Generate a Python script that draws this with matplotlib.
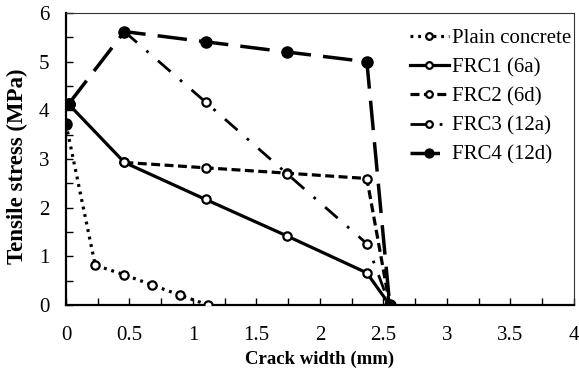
import matplotlib
matplotlib.use("Agg")
import matplotlib.pyplot as plt
from matplotlib.ticker import MultipleLocator

plt.rcParams['font.family'] = ['Liberation Serif', 'DejaVu Serif']

# crack width (mm) / tensile stress (MPa)
plain_x = [0.0, 0.23, 0.46, 0.68, 0.90, 1.12]
plain_y = [3.72, 0.82, 0.62, 0.41, 0.20, 0.0]

frc1_x = [0.02, 0.46, 1.10, 1.74, 2.37, 2.55]
frc1_y = [4.13, 2.93, 2.17, 1.42, 0.66, 0.0]

frc2_x = [0.46, 1.10, 1.74, 2.37, 2.55]
frc2_y = [2.93, 2.82, 2.71, 2.60, 0.0]

frc3_x = [0.46, 1.10, 1.74, 2.37, 2.55]
frc3_y = [5.62, 4.17, 2.70, 1.26, 0.0]

frc4_x = [0.02, 0.46, 1.10, 1.74, 2.37, 2.55]
frc4_y = [4.13, 5.62, 5.41, 5.20, 5.00, 0.0]

fig = plt.figure(figsize=(5.79, 3.74), dpi=100)
ax = fig.add_axes([0.114, 0.1845, 0.877, 0.7805])

open_mk = dict(marker='o', markersize=6, markerfacecolor='white',
               markeredgecolor='black', markeredgewidth=1.6)

ax.plot(plain_x, plain_y, color='black', lw=2.3, linestyle=(0, (0.9, 1.5)),
        label='Plain concrete', zorder=3, **open_mk)
ax.plot(frc1_x, frc1_y, color='black', lw=2.3, linestyle='-',
        label='FRC1 (6a)', zorder=3, **open_mk)
ax.plot(frc2_x, frc2_y, color='black', lw=2.3, linestyle=(0, (2.8, 1.4)),
        label='FRC2 (6d)', zorder=3, **open_mk)
ax.plot(frc3_x, frc3_y, color='black', lw=2.0, linestyle=(0, (6, 4.5, 1, 4.5)),
        label='FRC3 (12a)', zorder=3, **open_mk)
ax.plot(frc4_x, frc4_y, color='black', lw=2.5, linestyle=(0, (8.5, 3.5)),
        marker='o', markersize=8, markerfacecolor='black',
        markeredgecolor='black', label='FRC4 (12d)', zorder=4)
# first point of plain concrete curve
ax.plot([plain_x[0]], [plain_y[0]], 'o', color='black', markersize=8, zorder=5)
ax.plot([frc4_x[0]], [frc4_y[0]], 'o', color='black', markersize=8, zorder=5)

ax.set_xlim(0, 4)
ax.set_ylim(0, 6)
ax.xaxis.set_minor_locator(MultipleLocator(0.25))
ax.yaxis.set_major_locator(MultipleLocator(1))
ax.yaxis.set_minor_locator(MultipleLocator(0.5))
ax.set_xticks([0, 0.5, 1, 1.5, 2, 2.5, 3, 3.5, 4])
ax.set_xticklabels(['0', '0.5', '1', '1.5', '2', '2.5', '3', '3.5', '4'])
ax.tick_params(which='both', direction='in', labelsize=15, width=1)
ax.tick_params(which='major', length=5)
ax.tick_params(which='minor', length=5)
ax.tick_params(axis='x', which='major', pad=15)
ax.tick_params(axis='y', which='major', pad=12)
ax.tick_params(axis='x', which='both', top=False)
ax.tick_params(axis='y', which='both', right=False)

for side in ['left', 'bottom']:
    ax.spines[side].set_linewidth(1.6)
for side in ['top', 'right']:
    ax.spines[side].set_linewidth(0.8)
    ax.spines[side].set_color('#333333')

ax.set_xlabel('Crack width (mm)', fontsize=13.5, fontweight='bold', labelpad=4)
ax.set_ylabel('Tensile stress (MPa)', fontsize=16.5, fontweight='bold')
ax.yaxis.set_label_coords(-0.0745, 0.476)

ax.legend(loc='upper right', frameon=False, fontsize=15, handlelength=1.9,
          handletextpad=0.15, labelspacing=0.46, borderaxespad=0.0,
          markerscale=0.8, bbox_to_anchor=(1.012, 0.975))

fig.savefig('out.png', dpi=100)
